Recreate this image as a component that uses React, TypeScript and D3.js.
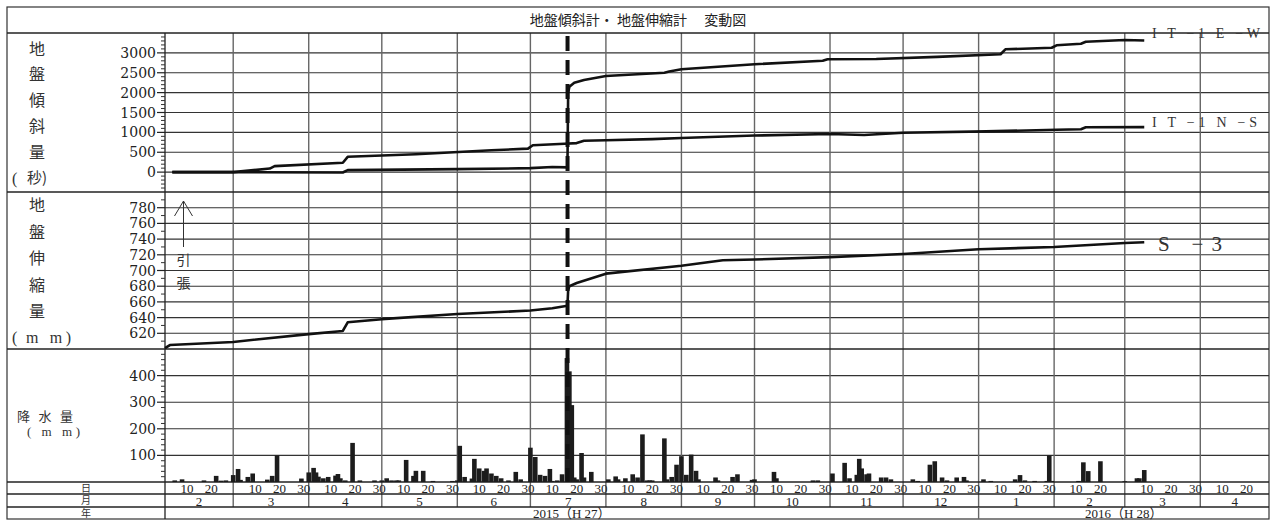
import React from 'react'
import * as d3 from 'd3'

// tilt meter series (seconds), [date, value]
const ewSeries: [string, number][] = [
  ['2015-02-04', 0], ['2015-03-01', 0], ['2015-04-15', -10], ['2015-04-17', 50],
  ['2015-06-01', 75], ['2015-07-01', 100], ['2015-07-10', 130], ['2015-07-16 05', 120],
  ['2015-07-16 12', 2000], ['2015-07-17', 2150], ['2015-07-19', 2250], ['2015-07-23', 2320],
  ['2015-08-01', 2420], ['2015-08-25', 2500], ['2015-08-27', 2530], ['2015-09-01', 2590],
  ['2015-10-01', 2715], ['2015-10-29', 2800], ['2015-10-31', 2840], ['2015-11-20', 2845],
  ['2015-12-15', 2900], ['2016-01-10', 2965], ['2016-01-12', 3090], ['2016-01-31', 3130],
  ['2016-02-02', 3190], ['2016-02-12', 3230], ['2016-02-14', 3280], ['2016-03-01', 3325],
  ['2016-03-09', 3310],
]
const nsSeries: [string, number][] = [
  ['2015-02-04', 0], ['2015-03-01', 0], ['2015-03-16', 90], ['2015-03-18', 150],
  ['2015-04-15', 235], ['2015-04-17', 385], ['2015-05-15', 450], ['2015-06-15', 550],
  ['2015-06-30', 590], ['2015-07-02', 675], ['2015-07-15', 715], ['2015-07-20', 730],
  ['2015-07-23', 790], ['2015-08-01', 800], ['2015-08-20', 830], ['2015-09-01', 860],
  ['2015-10-01', 920], ['2015-11-01', 960], ['2015-11-15', 935], ['2015-12-01', 990],
  ['2016-01-04', 1025], ['2016-02-02', 1065], ['2016-02-12', 1080], ['2016-02-14', 1130],
  ['2016-03-09', 1133],
]
// extensometer S-3 (mm)
const s3Series: [string, number][] = [
  ['2015-02-01', 601], ['2015-02-03', 605], ['2015-03-01', 609], ['2015-04-01', 619],
  ['2015-04-15', 623], ['2015-04-17', 634], ['2015-05-01', 638], ['2015-06-01', 644.5],
  ['2015-07-01', 649], ['2015-07-10', 652], ['2015-07-16 05', 655], ['2015-07-16 12', 675],
  ['2015-07-17', 680], ['2015-07-20', 684], ['2015-08-01', 696], ['2015-09-01', 706],
  ['2015-09-18', 713], ['2015-10-01', 714], ['2015-11-01', 717], ['2015-12-01', 721],
  ['2016-01-01', 727], ['2016-02-01', 730], ['2016-03-01', 735], ['2016-03-09', 736],
]
// daily rainfall (mm)
const rainDays = [
  '2015-02-05', '2015-02-08', '2015-02-17', '2015-02-22', '2015-02-24', '2015-02-26',
  '2015-03-01', '2015-03-03', '2015-03-04', '2015-03-07', '2015-03-09', '2015-03-15', '2015-03-17', '2015-03-19', '2015-03-29',
  '2015-04-01', '2015-04-03', '2015-04-04', '2015-04-05', '2015-04-07', '2015-04-09', '2015-04-12', '2015-04-13', '2015-04-14', '2015-04-16', '2015-04-19', '2015-04-22', '2015-04-28',
  '2015-05-01', '2015-05-03', '2015-05-05', '2015-05-07', '2015-05-08', '2015-05-11', '2015-05-14', '2015-05-15', '2015-05-18', '2015-05-22', '2015-05-30',
  '2015-06-01', '2015-06-02', '2015-06-04', '2015-06-07', '2015-06-08', '2015-06-10', '2015-06-12', '2015-06-13', '2015-06-15', '2015-06-17', '2015-06-19', '2015-06-22', '2015-06-25', '2015-06-27',
  '2015-07-01', '2015-07-03', '2015-07-05', '2015-07-07', '2015-07-09', '2015-07-10', '2015-07-12', '2015-07-14', '2015-07-16', '2015-07-17', '2015-07-18', '2015-07-19', '2015-07-20', '2015-07-22', '2015-07-23', '2015-07-26',
  '2015-08-02', '2015-08-05', '2015-08-06', '2015-08-09', '2015-08-12', '2015-08-14', '2015-08-16', '2015-08-18', '2015-08-19', '2015-08-20', '2015-08-25', '2015-08-26', '2015-08-28', '2015-08-30',
  '2015-09-01', '2015-09-03', '2015-09-05', '2015-09-07', '2015-09-08', '2015-09-15', '2015-09-16', '2015-09-22', '2015-09-24', '2015-09-30',
  '2015-10-01', '2015-10-09', '2015-10-10', '2015-10-25', '2015-10-27',
  '2015-11-02', '2015-11-07', '2015-11-09', '2015-11-12', '2015-11-13', '2015-11-14', '2015-11-16', '2015-11-17', '2015-11-22', '2015-11-24', '2015-11-26',
  '2015-12-05', '2015-12-07', '2015-12-12', '2015-12-14', '2015-12-17', '2015-12-19', '2015-12-23', '2015-12-26', '2015-12-27',
  '2016-01-03', '2016-01-06', '2016-01-16', '2016-01-18', '2016-01-20', '2016-01-24', '2016-01-29', '2016-01-30', '2016-01-31',
  '2016-02-11', '2016-02-13', '2016-02-15', '2016-02-20',
  '2016-03-01', '2016-03-06', '2016-03-07', '2016-03-09',
]
const rainValues = [
  6, 10, 6, 23, 5, 6,
  26, 49, 8, 19, 32, 9, 23, 100, 13,
  36, 53, 36, 20, 14, 19, 24, 30, 14, 6, 147, 6, 6,
  6, 14, 6, 6, 6, 83, 23, 42, 42, 4, 4,
  6, 136, 19, 13, 87, 51, 42, 51, 32, 23, 14, 6, 38, 10,
  129, 94, 27, 23, 49, 4, 6, 29, 466, 416, 289, 17, 10, 109, 17, 38,
  10, 21, 10, 14, 29, 17, 179, 6, 6, 6, 164, 10, 19, 65,
  97, 27, 103, 42, 10, 17, 6, 19, 29, 8,
  10, 38, 14, 6, 6,
  32, 72, 14, 27, 87, 51, 29, 32, 17, 17, 10,
  10, 4, 65, 78, 17, 6, 17, 19, 6,
  10, 4, 10, 26, 6, 4, 4, 100, 4,
  4, 74, 41, 78,
  3, 14, 14, 45,
]
const eventDay = '2015-07-16 06'

const tiltTicks = [0, 500, 1000, 1500, 2000, 2500, 3000]
const extTicks = [620, 640, 660, 680, 700, 720, 740, 760, 780]
const rainTicks = [100, 200, 300, 400]
const dayTicks = [10, 20, 30]
const yearLabels = ['2015（H 27）', '2016（H 28）']

const title = '地盤傾斜計・ 地盤伸縮計　 変動図'
const tiltLabel = ['地', '盤', '傾', '斜', '量']
const extLabel = ['地', '盤', '伸', '縮', '量']

const parse = (s: string) => {
  const [d, h] = s.split(' ')
  const [y, m, dd] = d.split('-').map(Number)
  return new Date(y, m - 1, dd, h ? +h : 0)
}

const serif = "'Liberation Serif', 'Noto Sans CJK JP', serif"
const numFont = "'DejaVu Serif', serif"
const cjk = "'Noto Sans CJK JP', sans-serif"

export default function App() {
  // frame layout
  const L = 7, R = 1269, T = 7, B = 519, PX = 165
  const titleBot = 33, tiltBot = 192, extBot = 349, rainBot = 482, dayBot = 494, monBot = 507

  const x = d3.scaleTime().domain([new Date(2015, 1, 1), new Date(2016, 3, 29, 5)]).range([PX, R])
  const yTilt = d3.scaleLinear().domain([-500, 3500]).range([tiltBot, titleBot])
  const yExt = d3.scaleLinear().domain([600, 800]).range([extBot, tiltBot])
  const yRain = d3.scaleLinear().domain([0, 500]).range([rainBot, extBot])

  const months = d3.timeMonth.range(new Date(2015, 1, 1), new Date(2016, 4, 1))
  const yearStart = x(new Date(2016, 0, 1))

  const tiltLine = d3.line<[string, number]>().x(d => x(parse(d[0]))).y(d => yTilt(d[1]))
  const extLine = d3.line<[string, number]>().x(d => x(parse(d[0]))).y(d => yExt(d[1]))

  const gridH = (ys: number[]) => ys.map((y, i) => (
    <line key={i} x1={PX} x2={R} y1={y} y2={y} stroke="#333" strokeWidth={1.1} />
  ))

  const axisTicks = (scale: d3.ScaleLinear<number, number>, major: number[], minor: number[], key: string) => (
    <g key={key}>
      {minor.map(v => <line key={'m' + v} x1={161} x2={PX} y1={scale(v)} y2={scale(v)} stroke="#333" strokeWidth={1} />)}
      {major.map(v => (
        <g key={'M' + v}>
          <line x1={157} x2={PX} y1={scale(v)} y2={scale(v)} stroke="#222" strokeWidth={1.2} />
          <text x={156} y={scale(v)} dy="0.36em" textAnchor="end" fontFamily={numFont} fontSize={14} fill="#222">{v}</text>
        </g>
      ))}
    </g>
  )

  const dayLabels: { x: number, t: number }[] = []
  months.forEach(m => {
    const n = d3.timeDay.count(m, d3.timeMonth.offset(m, 1))
    dayTicks.forEach(t => {
      if (t > n) return
      const px = x(new Date(m.getFullYear(), m.getMonth(), t))
      if (px < R - 4) dayLabels.push({ x: px, t })
    })
  })

  return (
    <svg width={1274} height={520} style={{ position: 'absolute', left: 0, top: 0, background: '#fff' }}>
      <rect x={0} y={0} width={1274} height={520} fill="#fff" />

      {/* grid */}
      {gridH(tiltTicks.map(v => yTilt(v)))}
      {gridH(extTicks.map(v => yExt(v)))}
      {gridH(rainTicks.map(v => yRain(v)))}
      {months.slice(1).map((m, i) => (
        <line key={i} x1={x(m)} x2={x(m)} y1={titleBot} y2={monBot} stroke="#666" strokeWidth={1.4} />
      ))}

      {/* frame and rows */}
      <rect x={L} y={T} width={R - L} height={B - T} fill="none" stroke="#333" strokeWidth={1.2} />
      {[titleBot, tiltBot, extBot, rainBot, dayBot, monBot].map(y => (
        <line key={y} x1={L} x2={R} y1={y} y2={y} stroke="#222" strokeWidth={1.3} />
      ))}
      <line x1={PX} x2={PX} y1={titleBot} y2={B} stroke="#222" strokeWidth={1.3} />
      <line x1={yearStart} x2={yearStart} y1={monBot} y2={B} stroke="#666" strokeWidth={1.4} />

      {/* y axes */}
      {axisTicks(yTilt, tiltTicks, d3.range(-500, 3501, 100).filter(v => v % 500 !== 0), 'tilt')}
      {axisTicks(yExt, extTicks, d3.range(600, 801, 10).filter(v => v % 20 !== 0), 'ext')}
      {axisTicks(yRain, rainTicks, d3.range(20, 500, 20).filter(v => v % 100 !== 0), 'rain')}

      {/* rainfall bars */}
      {rainDays.map((d, i) => (
        <rect key={d} x={x(parse(d)) - 2.3} width={4.6} y={yRain(rainValues[i])}
          height={rainBot - yRain(rainValues[i])} fill="#1c1c1c" />
      ))}

      {/* event line */}
      <line x1={x(parse(eventDay))} x2={x(parse(eventDay))} y1={titleBot + 3} y2={rainBot}
        stroke="#111" strokeWidth={4} strokeDasharray="15 9" />

      {/* series */}
      <path d={tiltLine(ewSeries) || ''} fill="none" stroke="#111" strokeWidth={2.6} strokeLinejoin="round" />
      <path d={tiltLine(nsSeries) || ''} fill="none" stroke="#111" strokeWidth={2.6} strokeLinejoin="round" />
      <path d={extLine(s3Series) || ''} fill="none" stroke="#111" strokeWidth={2.6} strokeLinejoin="round" />

      <text x={1152} y={yTilt(3500)} dy="0.35em" fontFamily={serif} fontSize={14} fill="#333" textLength={108} lengthAdjust="spacing">I T −1 E −W</text>
      <text x={1152} y={yTilt(1250)} dy="0.35em" fontFamily={serif} fontSize={14} fill="#333" textLength={105} lengthAdjust="spacing">I T −1 N −S</text>
      <text x={1158} y={yExt(734)} dy="0.35em" fontFamily={serif} fontSize={21} fill="#333" textLength={64} lengthAdjust="spacing">S −3</text>

      {/* tension arrow */}
      <path d="M183.5,247 L183.5,201 M174.5,216 L183.5,201 L192.5,216" fill="none" stroke="#333" strokeWidth={1} />
      <text x={183.5} y={260} dy="0.35em" textAnchor="middle" fontFamily={cjk} fontSize={14} fill="#333">引</text>
      <text x={183.5} y={283} dy="0.35em" textAnchor="middle" fontFamily={cjk} fontSize={14} fill="#333">張</text>

      {/* title */}
      <text x={(L + R) / 2} y={20} dy="0.35em" textAnchor="middle" fontFamily={cjk} fontSize={14} fill="#222">{title}</text>

      {/* left labels */}
      {tiltLabel.map((c, i) => (
        <text key={'t' + i} x={37} y={49 + i * 25.8} dy="0.35em" textAnchor="middle" fontFamily={cjk} fontSize={16} fill="#333">{c}</text>
      ))}
      <text x={12} y={178} dy="0.35em" fontFamily={serif} fontSize={16} fill="#333">(</text>
      <text x={27} y={178} dy="0.35em" fontFamily={cjk} fontSize={15} fill="#333">秒)</text>
      {extLabel.map((c, i) => (
        <text key={'e' + i} x={37} y={205.5 + i * 26.5} dy="0.35em" textAnchor="middle" fontFamily={cjk} fontSize={16} fill="#333">{c}</text>
      ))}
      <text x={12} y={337} dy="0.35em" fontFamily={serif} fontSize={16} fill="#333">(</text>
      <text x={26} y={337} dy="0.35em" fontFamily={serif} fontSize={16} fill="#333" textLength={45} lengthAdjust="spacing">m m)</text>
      <text x={17} y={416} dy="0.35em" fontFamily={cjk} fontSize={13} fill="#333" textLength={56} lengthAdjust="spacing">降 水 量</text>
      <text x={27} y={431} dy="0.35em" fontFamily={serif} fontSize={13} fill="#333" textLength={53} lengthAdjust="spacing">( m m)</text>
      <text x={86} y={488} dy="0.35em" textAnchor="middle" fontFamily={cjk} fontSize={10} fill="#333">日</text>
      <text x={86} y={500.5} dy="0.35em" textAnchor="middle" fontFamily={cjk} fontSize={10} fill="#333">月</text>
      <text x={86} y={513} dy="0.35em" textAnchor="middle" fontFamily={cjk} fontSize={10} fill="#333">年</text>

      {/* time axis */}
      {dayLabels.map((d, i) => (
        <text key={i} x={d.x} y={488.5} dy="0.35em" textAnchor="middle" fontFamily={serif} fontSize={13} fill="#222">{d.t}</text>
      ))}
      {months.map((m, i) => {
        const x0 = x(m), x1 = Math.min(R, x(d3.timeMonth.offset(m, 1)))
        return <text key={i} x={(x0 + x1) / 2} y={501} dy="0.35em" textAnchor="middle" fontFamily={serif} fontSize={13} fill="#222">{m.getMonth() + 1}</text>
      })}
      <text x={(PX + yearStart) / 2} y={513.5} dy="0.35em" textAnchor="middle" fontFamily={serif} fontSize={13} fill="#222">{yearLabels[0]}</text>
      <text x={(yearStart + R) / 2} y={513.5} dy="0.35em" textAnchor="middle" fontFamily={serif} fontSize={13} fill="#222">{yearLabels[1]}</text>
    </svg>
  )
}
